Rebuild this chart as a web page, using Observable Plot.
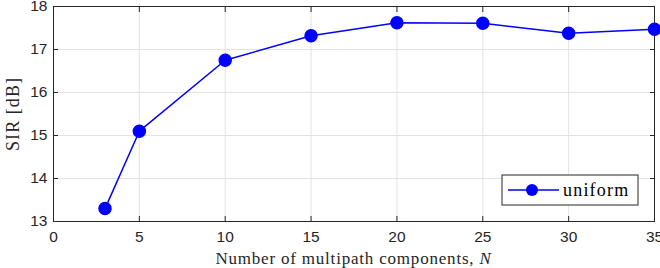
<!DOCTYPE html>
<html><head><meta charset="utf-8">
<script src="https://cdn.jsdelivr.net/npm/d3@7"></script>
<script src="https://cdn.jsdelivr.net/npm/@observablehq/plot@0.6"></script>
<style>
body{margin:0;background:#fff;}
svg{display:block;}
</style></head>
<body><div id="chart"></div>
<script>
const N = [3, 5, 10, 15, 20, 25, 30, 35];
const sir = [13.3, 15.1, 16.75, 17.32, 17.62, 17.61, 17.38, 17.47];
const xTicks = [0, 5, 10, 15, 20, 25, 30, 35];
const yTicks = [13, 14, 15, 16, 17, 18];
const seriesName = "uniform";
const data = N.map((n, i) => ({n, v: sir[i]}));

const W = 660, H = 268;
const M = {left: 53, right: 6, top: 6, bottom: 47};
const axisColor = "#262626";
const tickFont = "Liberation Sans, Arial, sans-serif";
const serif = "Liberation Serif, DejaVu Serif, serif";
const noLabel = () => "";

const plot = Plot.plot({
  width: W, height: H,
  marginLeft: M.left, marginRight: M.right, marginTop: M.top, marginBottom: M.bottom,
  style: {fontFamily: tickFont, fontSize: "15.5px", color: axisColor, background: "#fff", overflow: "visible"},
  x: {domain: [0, 35], ticks: xTicks, label: null},
  y: {domain: [13, 18], ticks: yTicks, label: null},
  marks: [
    Plot.gridX(xTicks, {stroke: "#e3e3e3", strokeOpacity: 1, strokeWidth: 1}),
    Plot.gridY(yTicks, {stroke: "#e3e3e3", strokeOpacity: 1, strokeWidth: 1}),
    Plot.frame({stroke: axisColor, strokeWidth: 1}),
    Plot.axisX(xTicks, {anchor: "bottom", tickSize: -5, tickPadding: 14, stroke: axisColor, fill: axisColor, fontSize: 15.5}),
    Plot.axisX(xTicks, {anchor: "top", tickSize: -5, tickFormat: noLabel, label: null, stroke: axisColor}),
    Plot.axisY(yTicks, {anchor: "left", tickSize: -5, tickPadding: 11, stroke: axisColor, fill: axisColor, fontSize: 15.5}),
    Plot.axisY(yTicks, {anchor: "right", tickSize: -5, tickFormat: noLabel, label: null, stroke: axisColor}),
    Plot.line(data, {x: "n", y: "v", stroke: "#0000ff", strokeWidth: 1.5}),
    Plot.dot(data, {x: "n", y: "v", r: 6, fill: "#0000ff", stroke: "#0000ff"})
  ]
});
document.getElementById("chart").appendChild(plot);

const svg = d3.select(plot);
const xs = plot.scale("x"), ys = plot.scale("y");
const x0 = xs.apply(0), x35 = xs.apply(35), y13 = ys.apply(13), y18 = ys.apply(18);

// axis labels
const xl = svg.append("text")
  .attr("x", (x0 + x35) / 2).attr("y", H - 4)
  .attr("text-anchor", "middle")
  .attr("font-family", serif).attr("font-size", 17).attr("letter-spacing", 0.8).attr("fill", axisColor);
xl.append("tspan").text("Number of multipath components, ");
xl.append("tspan").attr("font-style", "italic").text("N");

svg.append("text")
  .attr("transform", `translate(19,${(y13 + y18) / 2 + 1}) rotate(-90)`)
  .attr("text-anchor", "middle")
  .attr("font-family", serif).attr("font-size", 18)
  .attr("textLength", 73).attr("lengthAdjust", "spacing")
  .attr("fill", axisColor)
  .text("SIR [dB]");

// legend anchored to the bottom-right of the frame
const lgR = x35 - 16, lgB = y13 - 16, lgW = 136, lgH = 30;
const lg = svg.append("g").attr("transform", `translate(${lgR - lgW},${lgB - lgH})`);
lg.append("rect").attr("width", lgW).attr("height", lgH).attr("fill", "#fff").attr("stroke", axisColor).attr("stroke-width", 1);
lg.append("line").attr("x1", 6).attr("x2", 57).attr("y1", lgH / 2).attr("y2", lgH / 2).attr("stroke", "#0000ff").attr("stroke-width", 1.5);
lg.append("circle").attr("cx", 30).attr("cy", lgH / 2).attr("r", 6).attr("fill", "#0000ff");
lg.append("text").attr("x", 61).attr("y", lgH / 2 + 6).attr("text-anchor", "start")
  .attr("font-family", serif).attr("font-size", 18).attr("letter-spacing", 1.2).attr("fill", "#000").text(seriesName);
</script></body></html>
